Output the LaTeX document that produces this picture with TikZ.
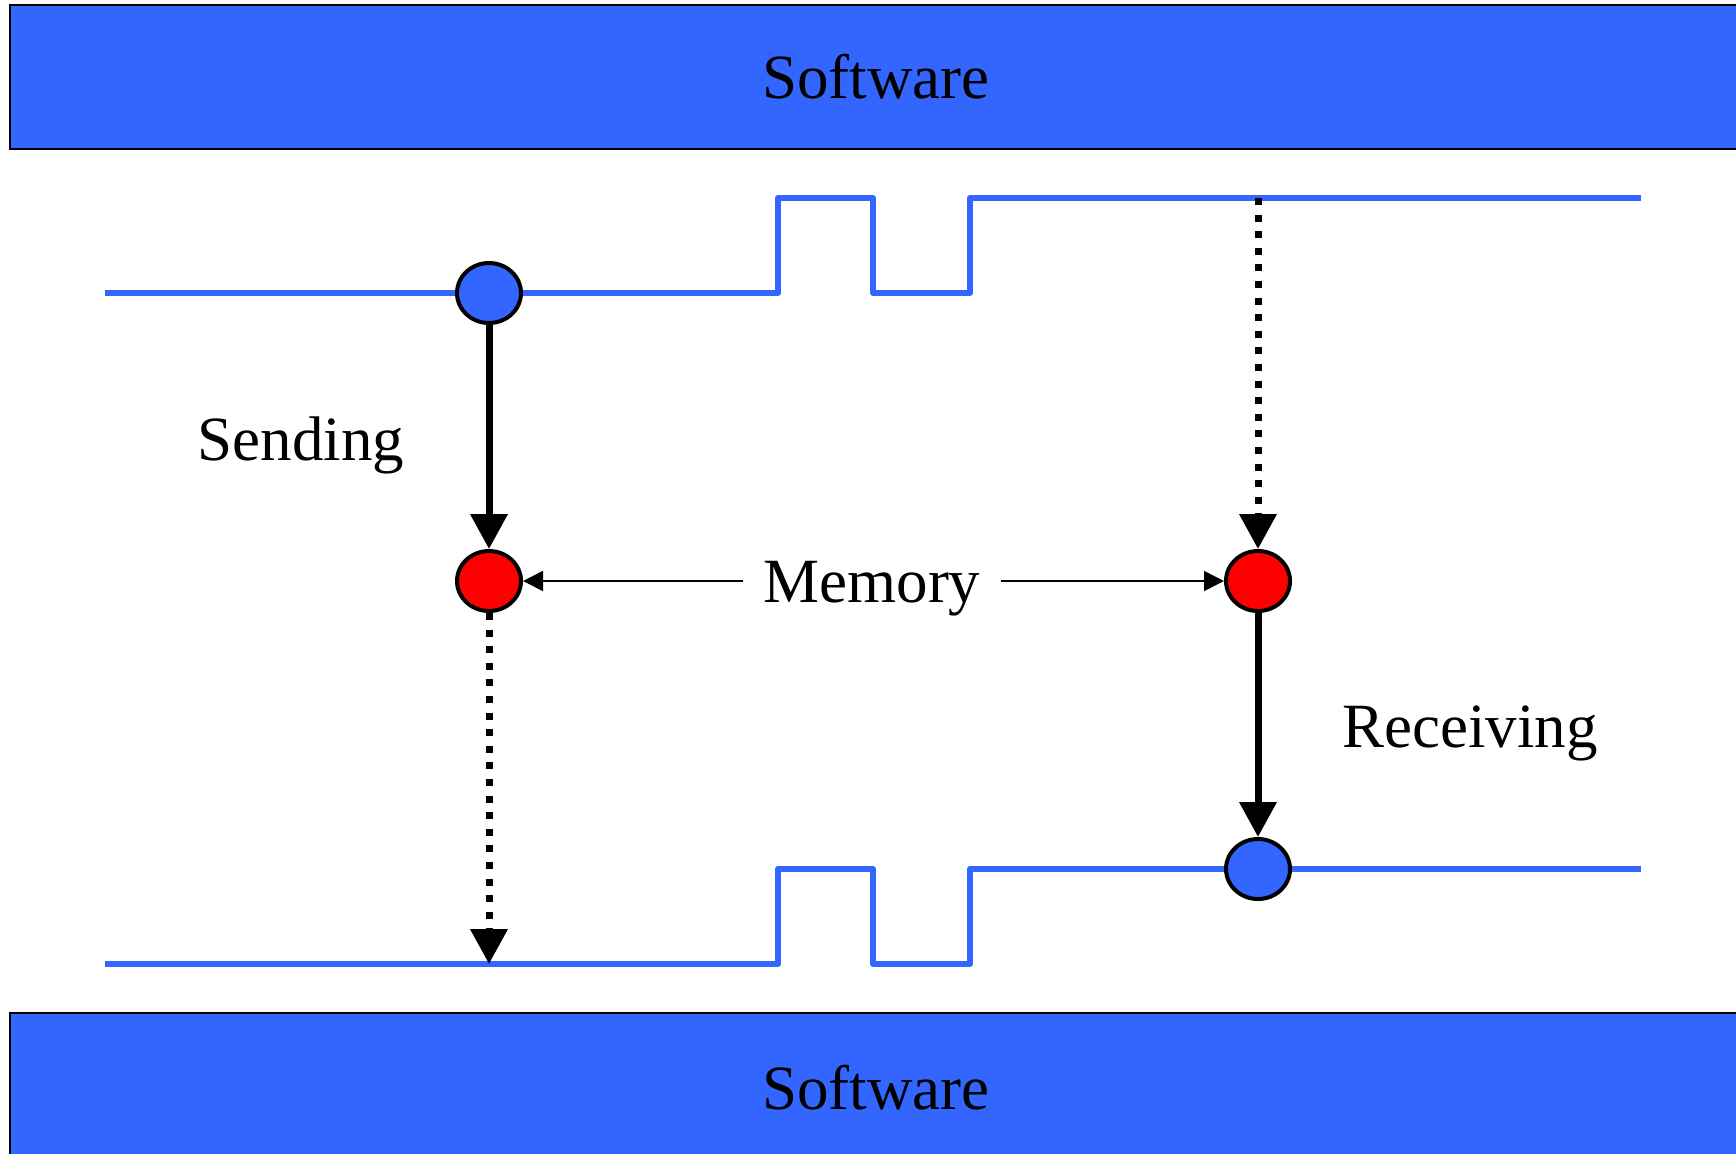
\documentclass[tikz,border=0pt]{standalone}
\usepackage{fontspec}
\setmainfont{Liberation Serif}
\usepackage{xcolor}
\usepackage{tikz}
\usetikzlibrary{shapes.geometric, arrows.meta, positioning}
\definecolor{swblue}{HTML}{3366FF}
\definecolor{memred}{HTML}{FF0000}
\tikzset{bar/.style={rectangle,draw=black,line width=1pt,fill=swblue,minimum width=866pt,minimum height=72pt,font=\fontsize{31.5}{36}\selectfont},
         signal/.style={draw=swblue,line width=3pt,line join=round},
         hostpt/.style={ellipse,draw,line width=2pt,fill=swblue,minimum width=32pt,minimum height=30pt,inner sep=0pt},
         mempt/.style={ellipse,draw,line width=2pt,fill=memred,minimum width=32pt,minimum height=30pt,inner sep=0pt},
         label/.style={font=\fontsize{31.5}{36}\selectfont,inner sep=0pt},
         flow/.style={-{Triangle[length=17.5pt,width=18pt]},line width=3.5pt},
         dotflow/.style={-{Triangle[length=17.5pt,width=18pt]},line width=3.5pt,dash pattern=on 3.5pt off 4.8pt},
         thinarrow/.style={-{Triangle[length=10pt,width=10pt]},line width=0.8pt}}

\begin{document}
\begin{tikzpicture}[x=0.5pt,y=-0.5pt]
    \useasboundingbox (0,0) rectangle (1736,1153);
    \clip (0,0) rectangle (1736,1153);
    % Software layers
    \node (topsw) [bar] at (876,77) {\raisebox{-2pt}{Software}};
    \node (botsw) [bar, minimum height=75pt] at (876,1088) {\raisebox{-1pt}{Software}};
    % Signal lines with pulses
    \draw[signal] (105,293) -- (778,293) -- (778,198) -- (873,198) -- (873,293) -- (970,293) -- (970,198) -- (1641,198);
    \draw[signal] (105,964) -- (778,964) -- (778,869) -- (873,869) -- (873,964) -- (970,964) -- (970,869) -- (1641,869);
    \coordinate (rxtop) at (1258,198);
    \coordinate (txbot) at (489,964);
    % Points on the lines and in memory
    \node (sendpt) [hostpt] at (489,293) {};
    \node (memL) [mempt] at (489,581) {};
    \node (memR) [mempt] at (1258,581) {};
    \node (recvpt) [hostpt] at (1258,869) {};
    \node (mem) [label, inner xsep=10pt] at (872,589) {Memory};
    \node (send) [label] at (301,445) {Sending};
    \node (recv) [label] at (1470,733) {Receiving};
    % Data paths
    \draw[flow] (sendpt.south) -- (memL.north);
    \draw[dotflow] (memL.south) -- (txbot);
    \draw[dotflow] (rxtop) -- (memR.north);
    \draw[flow] (memR.south) -- (recvpt.north);
    \draw[thinarrow] (mem.west |- memL) -- (memL.east);
    \draw[thinarrow] (mem.east |- memR) -- (memR.west);
\end{tikzpicture}
\end{document}
